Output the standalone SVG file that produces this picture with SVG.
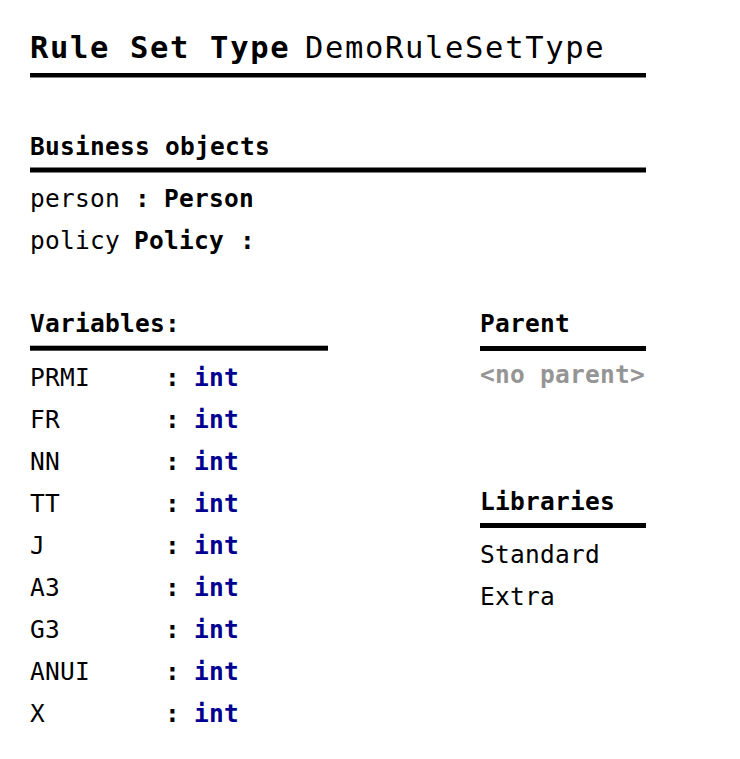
<svg xmlns="http://www.w3.org/2000/svg" width="740" height="759" viewBox="0 0 740 759">
<style>
text{font-family:"DejaVu Sans Mono","Liberation Mono",monospace;font-size:24.5px;letter-spacing:0.25px;fill:#000}
.t{font-size:30.5px;letter-spacing:1.65px}
.b{font-weight:bold}
.ty{font-weight:bold;fill:#000090}
.g{font-weight:bold;fill:#959595}
.rule{fill:#000}
</style>
<rect width="740" height="759" fill="#fff"/>
<g id="title">
<text class="t b" x="30" y="58">Rule Set Type</text>
<text class="t" x="305" y="58">DemoRuleSetType</text>
<rect class="rule" x="30" y="73" width="616" height="4.5"/>
</g>
<g id="business-objects">
<text class="b" x="30" y="155">Business objects</text>
<rect class="rule" x="30" y="167.5" width="616" height="5"/>
<text x="30" y="206.5">person</text><text class="b" x="135" y="206.5">:</text><text class="b" x="164" y="206.5">Person</text>
<text x="30" y="248.5">policy</text><text class="b" x="134" y="248.5">Policy</text><text class="b" x="240" y="248.5">:</text>
</g>
<g id="variables">
<text class="b" x="30" y="332">Variables:</text>
<rect class="rule" x="30" y="345.7" width="298" height="5"/>
<text x="30" y="386">PRMI</text><text class="b" x="165" y="386">:</text><text class="ty" x="194" y="386">int</text>
<text x="30" y="428">FR</text><text class="b" x="165" y="428">:</text><text class="ty" x="194" y="428">int</text>
<text x="30" y="470">NN</text><text class="b" x="165" y="470">:</text><text class="ty" x="194" y="470">int</text>
<text x="30" y="512">TT</text><text class="b" x="165" y="512">:</text><text class="ty" x="194" y="512">int</text>
<text x="30" y="554">J</text><text class="b" x="165" y="554">:</text><text class="ty" x="194" y="554">int</text>
<text x="30" y="596">A3</text><text class="b" x="165" y="596">:</text><text class="ty" x="194" y="596">int</text>
<text x="30" y="638">G3</text><text class="b" x="165" y="638">:</text><text class="ty" x="194" y="638">int</text>
<text x="30" y="680">ANUI</text><text class="b" x="165" y="680">:</text><text class="ty" x="194" y="680">int</text>
<text x="30" y="722">X</text><text class="b" x="165" y="722">:</text><text class="ty" x="194" y="722">int</text>
</g>
<g id="parent">
<text class="b" x="480" y="332">Parent</text>
<rect class="rule" x="480" y="346" width="166" height="5"/>
<text class="g" x="480" y="383">&lt;no parent&gt;</text>
</g>
<g id="libraries">
<text class="b" x="480" y="510">Libraries</text>
<rect class="rule" x="480" y="523" width="166" height="5"/>
<text x="480" y="563">Standard</text>
<text x="480" y="605">Extra</text>
</g>
<g id="connectors"/>
</svg>
